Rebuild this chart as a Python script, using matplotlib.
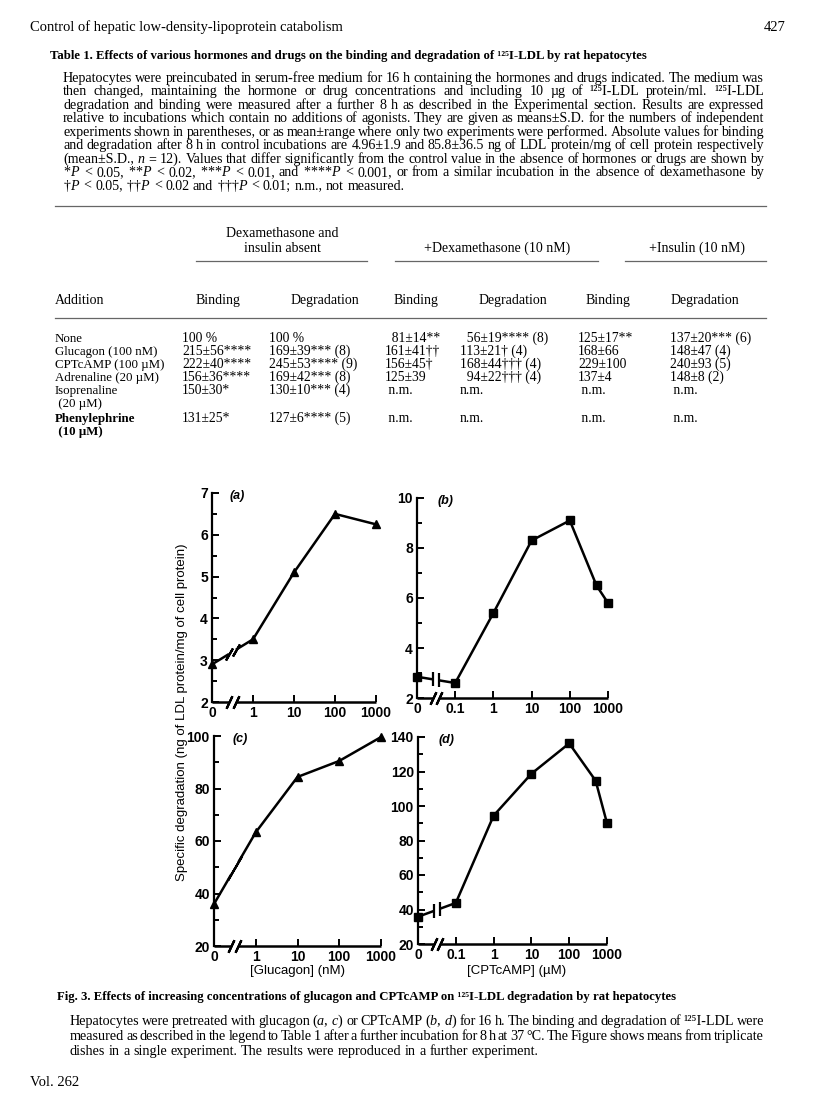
import numpy as np
import matplotlib
matplotlib.use("Agg")
import matplotlib.pyplot as plt
from matplotlib.lines import Line2D

W, H = 816, 1097
SERIF = ["Liberation Serif", "DejaVu Serif"]
SANS = ["Liberation Sans", "DejaVu Sans"]

plt.rcParams["font.family"] = SERIF
plt.rcParams["mathtext.fontset"] = "custom"
plt.rcParams["mathtext.rm"] = "Liberation Serif"
plt.rcParams["mathtext.it"] = "Liberation Serif:italic"

# ---- table 1 ----
additions = ["None", "Glucagon (100 nM)", "CPTcAMP (100 µM)", "Adrenaline (20 µM)",
             "Isoprenaline\n (20 µM)", "Phenylephrine\n (10 µM)"]
bind_none = ["100 %", "215±56****", "222±40****", "156±36****", "150±30*", "131±25*"]
deg_none = ["100 %", "169±39*** (8)", "245±53**** (9)", "169±42*** (8)", "130±10*** (4)",
            "127±6**** (5)"]
bind_dex = ["  81±14**", "161±41††", "156±45†", "125±39", " n.m.", " n.m."]
deg_dex = ["  56±19**** (8)", "113±21† (4)", "168±44††† (4)", "  94±22††† (4)", "n.m.", "n.m."]
bind_ins = ["125±17**", "168±66", "229±100", "137±4", " n.m.", " n.m."]
deg_ins = ["137±20*** (6)", "148±47 (4)", "240±93 (5)", "148±8 (2)", " n.m.", " n.m."]
group_heads = ["Dexamethasone and\ninsulin absent", "+Dexamethasone (10 nM)", "+Insulin (10 nM)"]
col_heads = ["Binding", "Degradation"] * 3

# ---- figure 3 ----
glucagon = [0, 1, 10, 100, 1000]
bind_glucagon = [2.9, 3.5, 5.1, 6.5, 6.25]
deg_glucagon = [36, 63.3, 84.4, 90.5, 99.6]
cptcamp = [0, 0.1, 1, 10, 100, 500, 1000]
bind_cpt = [2.85, 2.6, 5.4, 8.3, 9.1, 6.5, 5.8]
deg_cpt = [35.8, 43.8, 94.4, 118.7, 136.3, 114.7, 90]

legend_lines = [
    "Hepatocytes were preincubated in serum-free medium for 16 h containing the hormones and drugs indicated. The medium was",
    "then changed, maintaining the hormone or drug concentrations and including 10 µg of ¹²⁵I-LDL protein/ml. ¹²⁵I-LDL",
    "degradation and binding were measured after a further 8 h as described in the Experimental section. Results are expressed",
    "relative to incubations which contain no additions of agonists. They are given as means±S.D. for the numbers of independent",
    "experiments shown in parentheses, or as mean±range where only two experiments were performed. Absolute values for binding",
    "and degradation after 8 h in control incubations are 4.96±1.9 and 85.8±36.5 ng of LDL protein/mg of cell protein respectively",
    "(mean±S.D., $n$ = 12). Values that differ significantly from the control value in the absence of hormones or drugs are shown by",
    "*$P$ < 0.05, **$P$ < 0.02, ***$P$ < 0.01, and ****$P$ < 0.001, or from a similar incubation in the absence of dexamethasone by",
    "†$P$ < 0.05, ††$P$ < 0.02 and †††$P$ < 0.01; n.m., not measured.",
]
caption_lines = [
    "Hepatocytes were pretreated with glucagon ($a$, $c$) or CPTcAMP ($b$, $d$) for 16 h. The binding and degradation of ¹²⁵I-LDL were",
    "measured as described in the legend to Table 1 after a further incubation for 8 h at 37 °C. The Figure shows means from triplicate",
    "dishes in a single experiment. The results were reproduced in a further experiment.",
]

fig = plt.figure(figsize=(W / 100, H / 100), dpi=100)
renderer = fig.canvas.get_renderer()


def fx(x):
    return x / W


def fy(y):
    return 1 - y / H


def hline(x0, x1, y, lw=0.9, color="0.4"):
    fig.add_artist(Line2D([fx(x0), fx(x1)], [fy(y), fy(y)], lw=lw, color=color))


def put(x, y, s, **kw):
    return fig.text(fx(x), fy(y), s, va="baseline", **kw)


def paragraph(lines, x0, x1, y0, step, size):
    for i, line in enumerate(lines):
        y = y0 + i * step
        words = line.split(" ")
        texts = [put(0, y, w, fontsize=size) for w in words]
        widths = [t.get_window_extent(renderer).width for t in texts]
        if i < len(lines) - 1:
            gap = (x1 - x0 - sum(widths)) / (len(words) - 1)
        else:
            gap = size * 0.25 * 100 / 72
        x = x0
        for t, w in zip(texts, widths):
            t.set_x(fx(x))
            x += w + gap


# page text
put(30, 31, "Control of hepatic low-density-lipoprotein catabolism", fontsize=10.5)
put(785, 31, "427", fontsize=10.5, ha="right")
put(50, 59, "Table 1. Effects of various hormones and drugs on the binding and degradation of ¹²⁵I-LDL by rat hepatocytes",
    fontsize=9.2, fontweight="bold")
paragraph(legend_lines, 63, 764, 82, 13.45, 10.1)

hline(55, 766, 206)
for s, cx in zip(group_heads, [282, 497, 697]):
    parts = s.split("\n")
    for k, part in enumerate(parts):
        put(cx, 237 + (14.5 if len(parts) == 1 else 0) + k * 14.5, part, fontsize=10, ha="center")
for x0, x1 in [(196, 367), (395, 598), (625, 766)]:
    hline(x0, x1, 261)
put(55, 304, "Addition", fontsize=10)
for s, cx in zip(col_heads, [218, 325, 416, 513, 608, 705]):
    put(cx, 304, s, fontsize=10, ha="center")
hline(55, 766, 318)

row_y = [342, 355, 368, 381, 394, 422]
for lab, y in zip(additions, row_y):
    for k, part in enumerate(lab.split("\n")):
        put(55, y + k * 13.5, part, fontsize=9.3, fontweight="bold" if lab.startswith("Phen") else "normal")
columns = [bind_none, deg_none, bind_dex, deg_dex, bind_ins, deg_ins]
for col, cx in zip(columns, [182, 269, 385, 460, 578, 670]):
    for s, y in zip(col, row_y):
        put(cx, y, s, fontsize=9.8)


# ---- panels ----
def zero_scale(zero_pos):
    def fwd(x):
        x = np.asarray(x, dtype=float)
        safe = np.where(x > 0, x, 1.0)
        return np.where(x > 0, np.log10(safe), zero_pos)

    def inv(p):
        return 10.0 ** np.asarray(p, dtype=float)

    return fwd, inv


def panel(box, xs, ys, zero_pos, xticks, ylim, ymajor, yminor, marker, tag, slanted):
    left, right, top, bottom = box
    ax = fig.add_axes([fx(left), fy(bottom), (right - left) / W, (bottom - top) / H])
    fwd, inv = zero_scale(zero_pos)
    ax.set_xscale("function", functions=(fwd, inv))
    ax.set_xlim(0, 1000)
    ax.set_ylim(*ylim)
    for side in ["top", "right", "bottom"]:
        ax.spines[side].set_visible(False)
    ax.spines["left"].set_linewidth(1.6)

    ax.set_xticks(xticks)
    ax.set_xticklabels([("%g" % v) for v in xticks])
    ax.xaxis.set_minor_locator(matplotlib.ticker.NullLocator())
    ax.set_yticks(ymajor)
    ax.set_yticks(yminor, minor=True)
    ax.tick_params(which="both", direction="in", width=1.4, colors="k", labelsize=10, pad=3)
    ax.tick_params(which="major", length=5)
    ax.tick_params(which="minor", length=3.5)
    for t in ax.get_xticklabels() + ax.get_yticklabels():
        t.set_family(SANS)
        t.set_fontweight("bold")

    pos = fwd(xs)
    mid = (pos[0] + pos[1]) / 2
    half = 0.085
    pl, pr = mid - half, mid + half
    yl = np.interp(pl, pos[:2], ys[:2])
    yr = np.interp(pr, pos[:2], ys[:2])
    line_kw = dict(color="k", lw=1.8, clip_on=False, solid_capstyle="butt")
    ax.plot([xs[0], inv(pl)], [ys[0], yl], **line_kw)
    ax.plot([inv(pr)] + list(xs[1:]), [yr] + list(ys[1:]), **line_kw)
    ax.plot(xs, ys, ls="none", marker=marker, ms=6, color="k", clip_on=False)
    cap = (2, 2, -30) if slanted else "|"
    ax.plot([inv(pl), inv(pr)], [yl, yr], ls="none", marker=cap, ms=10, mew=1.6, color="k", clip_on=False)

    # broken x axis
    xt = ax.get_xaxis_transform()
    ax.plot([0, inv(pl)], [0, 0], transform=xt, **line_kw)
    ax.plot([inv(pr), 1000], [0, 0], transform=xt, **line_kw)
    ax.plot([inv(pl), inv(pr)], [0, 0], transform=xt, ls="none", marker=(2, 2, -25), ms=10, mew=1.6,
            color="k", clip_on=False)

    ax.text(0.11, 0.985, tag, transform=ax.transAxes, ha="left", va="center", fontsize=9,
            family=SANS, fontstyle="italic", fontweight="bold")
    ax.patch.set_visible(False)
    return ax


panel((212, 376, 493, 702), glucagon, bind_glucagon, -1, glucagon, (2, 7),
      [2, 3, 4, 5, 6, 7], np.arange(2.5, 7, 1.0), "^", "(a)", True)
panel((417, 608, 498, 698), cptcamp, bind_cpt, -2, [0, 0.1, 1, 10, 100, 1000], (2, 10),
      [2, 4, 6, 8, 10], [3, 5, 7, 9], "s", "(b)", False)
panel((214, 381, 736, 946), glucagon, deg_glucagon, -1, glucagon, (20, 100),
      [20, 40, 60, 80, 100], [30, 50, 70, 90], "^", "(c)", True)
panel((418, 607, 737, 944), cptcamp, deg_cpt, -2, [0, 0.1, 1, 10, 100, 1000], (20, 140),
      [20, 40, 60, 80, 100, 120, 140], [30, 50, 70, 90, 110, 130], "s", "(d)", False)

fig.text(fx(182), fy(712), "Specific degradation (ng of LDL protein/mg of cell protein)", rotation=90,
         ha="center", va="center", fontsize=9.5, family=SANS)
put(297, 974, "[Glucagon] (nM)", fontsize=9.5, family=SANS, ha="center")
put(517, 974, "[CPTcAMP] (µM)", fontsize=9.5, family=SANS, ha="center")

put(57, 1000, "Fig. 3. Effects of increasing concentrations of glucagon and CPTcAMP on ¹²⁵I-LDL degradation by rat hepatocytes",
    fontsize=9.2, fontweight="bold")
paragraph(caption_lines, 70, 764, 1025, 15.2, 10.2)
put(30, 1086, "Vol. 262", fontsize=10.5)

fig.savefig("out.png", dpi=100)
